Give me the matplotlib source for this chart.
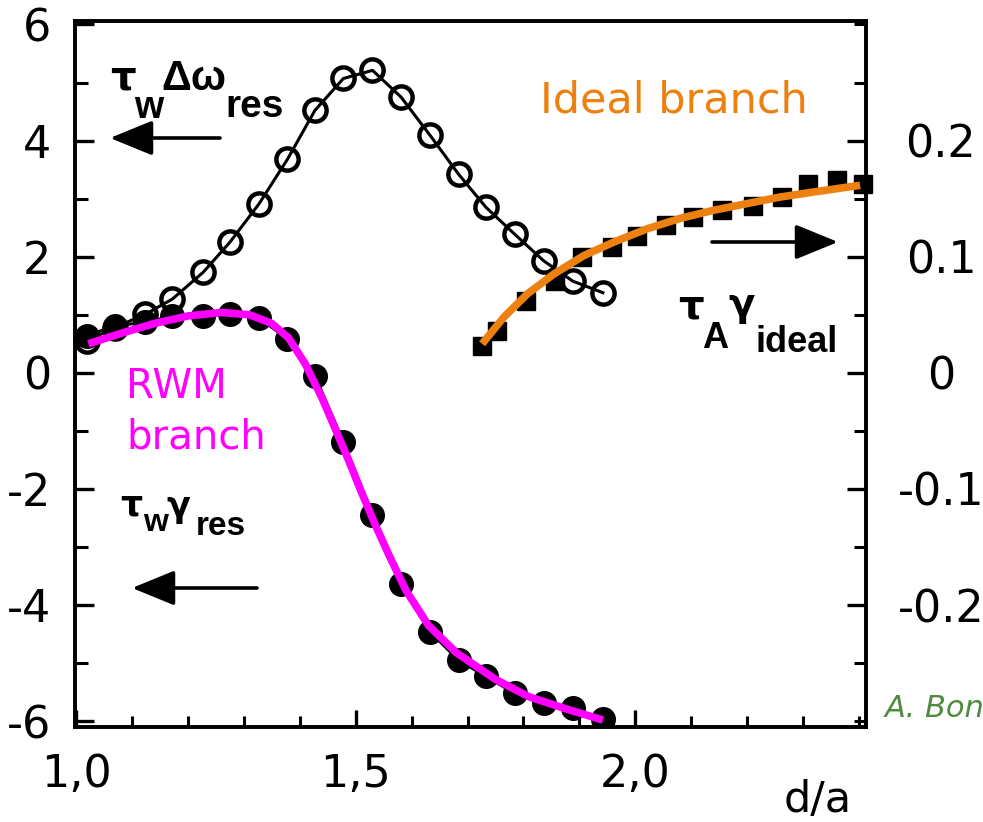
import matplotlib
matplotlib.use("Agg")
import matplotlib.pyplot as plt
from matplotlib.patches import FancyArrowPatch
from matplotlib.ticker import MultipleLocator, FixedLocator

plt.rcParams['axes.unicode_minus'] = False

# ---------------- data ----------------
d_res = [1.020, 1.069, 1.124, 1.172, 1.227, 1.275, 1.327, 1.378, 1.427, 1.478,
         1.530, 1.581, 1.633, 1.684, 1.733, 1.784, 1.836, 1.888, 1.942]
dw_res = [0.55, 0.78, 1.01, 1.27, 1.73, 2.25, 2.91, 3.68, 4.52, 5.07,
          5.21, 4.75, 4.09, 3.42, 2.85, 2.39, 1.93, 1.58, 1.38]
g_res = [0.64, 0.81, 0.87, 0.98, 0.98, 1.01, 0.95, 0.58, -0.05, -1.19,
         -2.44, -3.64, -4.46, -4.95, -5.23, -5.52, -5.69, -5.77, -5.97]

rwm_x = [1.022, 1.08, 1.14, 1.20, 1.26, 1.31, 1.35, 1.38, 1.41, 1.44, 1.465,
         1.487, 1.51, 1.535, 1.56, 1.59, 1.63, 1.68, 1.75, 1.81, 1.88, 1.942]
rwm_y = [0.50, 0.68, 0.85, 0.98, 1.04, 1.00, 0.85, 0.60, 0.15, -0.44, -1.00,
         -1.50, -2.05, -2.62, -3.15, -3.75, -4.35, -4.82, -5.28, -5.58, -5.80, -5.98]

d_ideal = [1.726, 1.753, 1.804, 1.857, 1.905, 1.958, 2.003, 2.054, 2.104,
           2.155, 2.211, 2.262, 2.309, 2.360, 2.408]
g_ideal = [0.023, 0.036, 0.062, 0.079, 0.100, 0.108, 0.118, 0.127, 0.134,
           0.140, 0.144, 0.151, 0.163, 0.166, 0.163]

ideal_x = [1.726, 1.765, 1.807, 1.854, 1.908, 1.961, 2.021, 2.080, 2.140,
           2.199, 2.259, 2.318, 2.402]
ideal_y = [0.025, 0.048, 0.068, 0.085, 0.101, 0.1125, 0.124, 0.133, 0.140,
           0.1457, 0.1514, 0.1557, 0.1615]

x_major = [1.0, 1.5, 2.0]
x_major_labels = ["1,0", "1,5", "2,0"]
left_ticks = [-6, -4, -2, 0, 2, 4, 6]
left_labels = ["-6", "-4", "-2", "0", "2", "4", "6"]
right_ticks = [-0.2, -0.1, 0.0, 0.1, 0.2]
right_labels = ["-0.2", "-0.1", "0", "0.1", "0.2"]

# ---------------- figure ----------------
W, H = 983, 822
fig = plt.figure(figsize=(W / 100, H / 100), dpi=100)

def fx(px):
    return px / W

def fy(py):
    return 1 - py / H

ax = fig.add_axes([fx(75), fy(727), fx(866) - fx(75), fy(21) - fy(727)])
ax.set_xlim(0.998, 2.4125)
ax.set_ylim(-6.1, 6.06)
ax2 = ax.twinx()
ax2.set_ylim(-6.1 / 20, 6.06 / 20)

# open circles with line
ax.plot(d_res, dw_res, color='black', lw=2.2, marker='o', ms=16,
        mfc='none', mec='black', mew=3.2, zorder=3)
# filled circles with thin line
ax.plot(d_res, g_res, color='black', lw=2.2, marker='o', ms=17,
        mfc='black', mec='black', zorder=3)
# magenta curve
ax.plot(rwm_x, rwm_y, color='#FF00FF', lw=5.5, solid_capstyle='butt', zorder=5)

# squares + orange curve on right axis
ax2.plot(d_ideal, g_ideal, ls='none', marker='s', ms=12.5, mfc='black',
         mec='black', zorder=3, clip_on=False)
ax2.plot(ideal_x, ideal_y, color='#EE8010', lw=5.5, solid_capstyle='butt', zorder=5)

# ---------------- spines & ticks ----------------
for a in (ax, ax2):
    for s in a.spines.values():
        s.set_linewidth(2.6)

tick_font = dict(family='DejaVu Sans', size=32)

ax.xaxis.set_major_locator(FixedLocator(x_major))
ax.set_xticklabels(x_major_labels, **tick_font)
ax.xaxis.set_minor_locator(MultipleLocator(0.1))
ax.tick_params(axis='x', which='major', direction='in', length=12, width=2.4,
               pad=19, top=False)
ax.tick_params(axis='x', which='minor', direction='in', length=8, width=2.2, top=False)

ax.set_yticks(left_ticks)
ax.set_yticklabels(left_labels, **tick_font)
ax.yaxis.set_minor_locator(MultipleLocator(1))
ax.tick_params(axis='y', which='major', direction='in', length=14, width=2.4, pad=17)
ax.tick_params(axis='y', which='minor', direction='in', length=9, width=2.2)

ax2.set_yticks(right_ticks)
ax2.set_yticklabels(right_labels, **tick_font)
ax2.yaxis.set_minor_locator(MultipleLocator(0.05))
ax2.tick_params(axis='y', which='major', direction='in', length=14, width=2.4, pad=54)
ax2.tick_params(axis='y', which='minor', direction='in', length=9, width=2.2)
for lbl in ax2.get_yticklabels():
    lbl.set_horizontalalignment('center')

# ---------------- annotations ----------------
latin = dict(family='Liberation Sans', weight='bold', color='black', va='baseline')
greek = dict(family='DejaVu Sans', weight='bold', color='black', va='baseline')

# tau_w Delta omega_res (top-left)
fig.text(fx(110), fy(90), 'τ', size=29, **greek)
fig.text(fx(134), fy(118), 'w', size=27, **latin)
fig.text(fx(161), fy(90), 'Δω', size=30, **latin)
fig.text(fx(225), fy(117), 'res', size=28, **latin)

# tau_w gamma_res (bottom-left)
fig.text(fx(120), fy(515), 'τ', size=25, **greek)
fig.text(fx(143), fy(531), 'w', size=23, **latin)
fig.text(fx(166), fy(517), 'γ', size=25, **greek)
fig.text(fx(196), fy(535), 'res', size=24, **latin)

# tau_A gamma_ideal (right)
fig.text(fx(678), fy(318), 'τ', size=29, **greek)
fig.text(fx(702), fy(348), 'A', size=26, **latin)
fig.text(fx(728), fy(316), 'γ', size=28, **greek)
fig.text(fx(756), fy(352), 'ideal', size=26, **latin)

arrow = dict(arrowstyle='-|>,head_length=1.1,head_width=0.45', lw=2.6,
             color='black', mutation_scale=24, shrinkA=0, shrinkB=0)
fig.add_artist(FancyArrowPatch((fx(220), fy(138)), (fx(110), fy(138)),
                               transform=fig.transFigure, **arrow))
fig.add_artist(FancyArrowPatch((fx(257), fy(588)), (fx(132), fy(588)),
                               transform=fig.transFigure, **arrow))
fig.add_artist(FancyArrowPatch((fx(712), fy(242)), (fx(838), fy(242)),
                               transform=fig.transFigure, **arrow))

# coloured branch labels
fig.text(fx(540), fy(112), 'Ideal branch', family='DejaVu Sans', size=31,
         color='#EE8010', va='baseline')
fig.text(fx(126), fy(398), 'RWM', family='DejaVu Sans', size=29,
         color='#FF00FF', va='baseline')
fig.text(fx(126), fy(448), 'branch', family='DejaVu Sans', size=29,
         color='#FF00FF', va='baseline')

# x label
fig.text(fx(818), fy(812), 'd/a', family='DejaVu Sans', size=31,
         ha='center', va='baseline')

# credit (cut at the right edge, as in the reference)
fig.text(fx(885), fy(717), 'A. Bondeson', family='DejaVu Sans', style='italic',
         size=22, color='#4F8B3F', va='baseline')

fig.savefig('out.png', dpi=100)
